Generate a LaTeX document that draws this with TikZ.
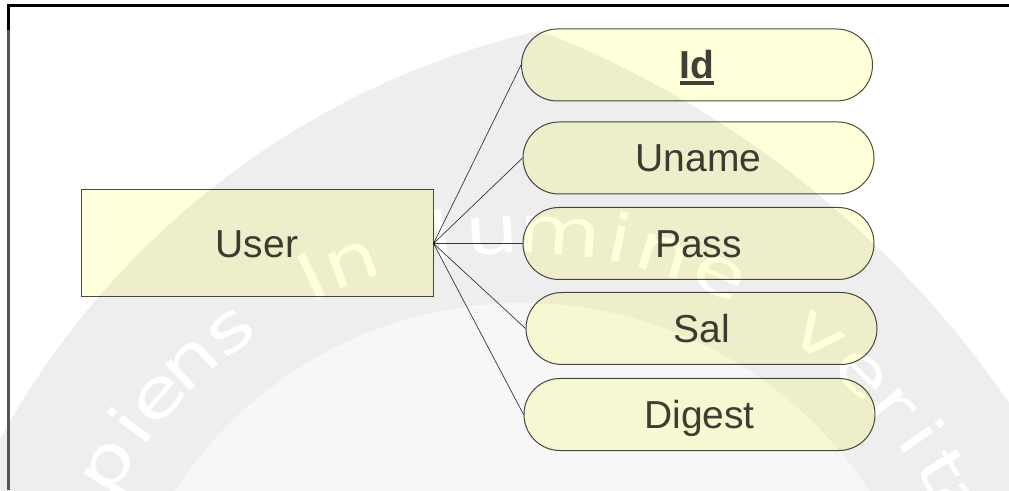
\documentclass[tikz,border=0pt]{standalone}
\usepackage{fontspec}
\setmainfont{Liberation Sans}
\newfontfamily\wmfont{DejaVu Sans}
\usetikzlibrary{shapes.misc}

\definecolor{nodefill}{HTML}{FFFFD9}
\definecolor{nodeline}{HTML}{4A4A4A}
\definecolor{labeltext}{HTML}{404040}
\definecolor{linkline}{HTML}{3A3A3A}
\definecolor{wmgray}{HTML}{EEEEEE}
\definecolor{wminner}{HTML}{F7F7F7}
\definecolor{framegray}{HTML}{555555}

% thick underline for the key attribute
\newcommand\keyunderline[1]{\sbox0{#1}\rlap{\rule[-5.8pt]{\wd0}{3.3pt}}\usebox0}

\begin{document}
\begin{tikzpicture}[x=1pt,y=1pt,
  labelfont/.style={font=\fontsize{39}{39}\selectfont, text=labeltext,
    text height=28pt, text depth=0pt, inner sep=0pt},
  entity/.style={labelfont, rectangle, draw=nodeline, line width=1pt,
    fill=nodefill, minimum width=352pt, minimum height=107pt},
  attr/.style={labelfont, rounded rectangle, draw=nodeline, line width=1pt,
    fill=nodefill, minimum width=351pt, minimum height=72pt},
  link/.style={draw=linkline, line width=0.7pt},
  wmletter/.style={font=\wmfont\fontsize{66}{66}\selectfont, text=white,
    inner sep=0pt, anchor=base}]

\useasboundingbox (0,0) rectangle (1009,490);
\fill[white] (0,0) rectangle (1009,490);

% background seal: pointed arch with a lighter inner disc and its motto
\coordinate (wmA) at (723.6,-344.7);
\coordinate (wmB) at (169,-490.4);
\coordinate (wmc) at (522,-228);
\begin{scope}
  \clip (0,0) rectangle (1009,490);
  \begin{scope}
    \clip (wmA) circle[radius=824.4];
    \fill[wmgray] (wmB) circle[radius=1019.3];
    \fill[wminner] (wmc) circle[radius=415];
  \end{scope}
  \foreach \a/\ch in {148.7/p,143.3/i,138.6/e,133/n,127/s,
      115.5/I,110.5/n,
      99.5/l,93.5/u,85.5/m,78.5/i,73/n,66/e,
      52.2/v,45.4/e,40/r,35.2/i,30.7/t,26/a}
    \node[wmletter, rotate=\a-90] at ([shift={(\a:465)}]wmc)
      {\scalebox{1.3}[1]{\ch}};
\end{scope}

% entity and its attributes
\begin{scope}[blend mode=multiply]
  \node[entity] (user)   at (257,246.5)   {User};
  \node[attr]   (id)     at (697,425)     {\keyunderline{\bfseries Id}};
  \node[attr]   (uname)  at (698.5,332)   {Uname};
  \node[attr]   (pass)   at (698.5,246.5) {Pass};
  \node[attr]   (sal)    at (701.5,161.5) {Sal};
  \node[attr]   (digest) at (699.5,75.5)  {Digest};

  \draw[link] (user.east) -- (id.west);
  \draw[link] (user.east) -- (uname.west);
  \draw[link] (user.east) -- (pass.west);
  \draw[link] (user.east) -- (sal.west);
  \draw[link] (user.east) -- (digest.west);
\end{scope}

% frame
\draw[black, line width=3pt] (7,484.5) -- (1009,484.5);
\draw[framegray, line width=3pt] (8.5,460) -- (8.5,0);
\draw[black, line width=3pt] (8.5,486) -- (8.5,460);
\end{tikzpicture}
\end{document}
